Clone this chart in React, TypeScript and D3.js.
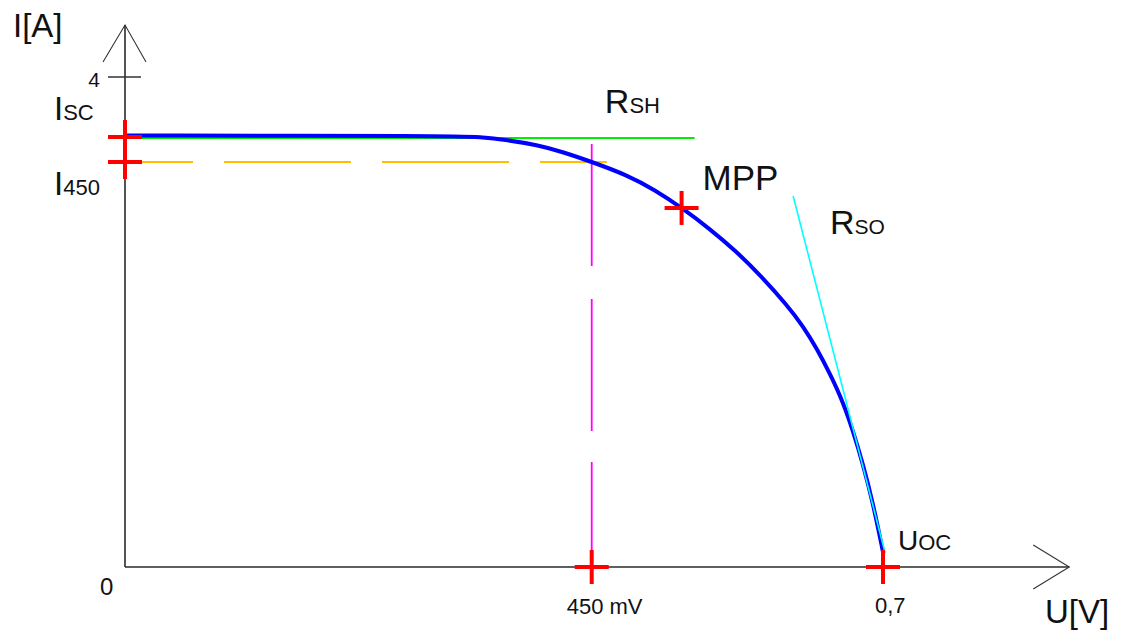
import React from "react";
import * as d3 from "d3";

// ---- data (U in volts, I in amperes) ----
const curveU = [0, 0.3029, 0.3278, 0.3528, 0.3805, 0.4045, 0.4313, 0.4636, 0.4894, 0.5144, 0.5402, 0.5652, 0.5864, 0.6113, 0.6261, 0.6391, 0.6511, 0.6631, 0.6723, 0.6815, 0.6908, 0.7];
const curveI = [3.522, 3.52, 3.51, 3.486, 3.445, 3.388, 3.306, 3.2, 3.078, 2.931, 2.759, 2.571, 2.384, 2.139, 1.967, 1.78, 1.576, 1.347, 1.11, 0.84, 0.52, 0.122];

const Isc = 3.51;
const I450 = 3.306;
const U450 = 0.431;
const Uoc = 0.7;
const mppU = 0.514;
const mppI = 2.931;

const rshLine: [number, number][] = [[0, 3.502], [0.526, 3.502]];
const rsoLine: [number, number][] = [[0.617, 3.029], [0.702, 0.114]];
const i450Line: [number, number][] = [[0, I450], [0.445, I450]];
const u450Line: [number, number][] = [[U450, 3.453], [U450, 0]];

const crossPoints: [number, number][] = [[0, Isc], [0, I450], [mppU, mppI], [U450, 0], [Uoc, 0]];

const yTicks = [4];
const yTickLabels = ["4"];
const originLabel = "0";
const xTickValues = [U450, Uoc];
const xTickLabels = ["450 mV", "0,7"];

const xDomain = [0, 0.7];
const yDomain = [0, 4];
const xAxisEnd = 0.872;
const yAxisEnd = 4.424;

const FONT = "'Liberation Sans', Arial, sans-serif";

export default function App() {
  const x = d3.scaleLinear().domain(xDomain).range([125, 883]);
  const y = d3.scaleLinear().domain(yDomain).range([567, 77]);

  const pts: [number, number][] = curveU.map((u, i) => [u, curveI[i]]);
  const line = d3
    .line<[number, number]>()
    .x((d) => x(d[0]))
    .y((d) => y(d[1]))
    .curve(d3.curveBasis);
  const straight = d3
    .line<[number, number]>()
    .x((d) => x(d[0]))
    .y((d) => y(d[1]));

  const x0 = x(0);
  const y0 = y(0);
  const xEnd = x(xAxisEnd);
  const yTop = y(yAxisEnd);
  const arm = 17;

  const Label = ({ px, py, main, sub, size, subSize }: any) => (
    <text x={px} y={py} fontFamily={FONT} fontSize={size} fill="#111">
      {main}
      {sub ? <tspan fontSize={subSize}>{sub}</tspan> : null}
    </text>
  );

  return (
    <svg
      width={1125}
      height={633}
      style={{ position: "absolute", left: 0, top: 0, background: "#fff" }}
    >
      {/* axes */}
      <line x1={x0} y1={y0} x2={x0} y2={yTop} stroke="#2a2a2a" strokeWidth={1.6} />
      <line x1={x0} y1={y0} x2={xEnd} y2={y0} stroke="#2a2a2a" strokeWidth={1.6} />
      <polyline
        points={`${x0 - 22},${yTop + 37} ${x0},${yTop} ${x0 + 21},${yTop + 37}`}
        fill="none"
        stroke="#333"
        strokeWidth={1.1}
      />
      <polyline
        points={`${xEnd - 36},${y0 - 22} ${xEnd},${y0} ${xEnd - 36},${y0 + 22}`}
        fill="none"
        stroke="#333"
        strokeWidth={1.1}
      />
      {yTicks.map((t, i) => (
        <g key={t}>
          <line x1={x0 - 17} x2={x0 + 16} y1={y(t)} y2={y(t)} stroke="#333" strokeWidth={1.5} />
          <text x={x0 - 25} y={y(t) + 10} textAnchor="end" fontFamily={FONT} fontSize={21} fill="#111">
            {yTickLabels[i]}
          </text>
        </g>
      ))}
      <text x={x0 - 25} y={y0 + 28} fontFamily={FONT} fontSize={24} fill="#111">
        {originLabel}
      </text>

      {/* helper lines */}
      <path d={straight(rshLine) || ""} stroke="#00ee00" strokeWidth={2} fill="none" />
      <path
        d={straight(i450Line) || ""}
        stroke="#ffbf00"
        strokeWidth={2}
        fill="none"
        strokeDasharray="127 31"
        strokeDashoffset={59}
      />
      <path
        d={straight(u450Line) || ""}
        stroke="#ff00ff"
        strokeWidth={1.8}
        fill="none"
        strokeDasharray="122 33 132 31 500"
      />

      {/* I-V curve */}
      <path d={line(pts) || ""} stroke="#0000ff" strokeWidth={4} fill="none" strokeLinejoin="round" />
      <path d={straight(rsoLine) || ""} stroke="#00ffff" strokeWidth={1.6} fill="none" />

      {/* crosses */}
      {crossPoints.map((p, i) => (
        <g key={i} stroke="#ff0000" strokeWidth={4}>
          <line x1={x(p[0]) - arm} x2={x(p[0]) + arm} y1={y(p[1])} y2={y(p[1])} />
          <line x1={x(p[0])} x2={x(p[0])} y1={y(p[1]) - arm} y2={y(p[1]) + arm} />
        </g>
      ))}

      {/* x tick labels */}
      {xTickValues.map((v, i) => (
        <text
          key={i}
          x={x(v) - (i === 0 ? 25 : 8)}
          y={y0 + (i === 0 ? 47 : 46)}
          fontFamily={FONT}
          fontSize={22}
          fill="#111"
        >
          {xTickLabels[i]}
        </text>
      ))}

      {/* annotations */}
      <Label px={13} py={yTop + 12} main="I[A]" size={33} />
      <Label px={x0 + 920} py={y0 + 56} main="U[V]" size={33} />
      <Label px={x0 - 71} py={y(Isc) - 17} main="I" sub="SC" size={33} subSize={22} />
      <Label px={x0 - 71} py={y(I450) + 33} main="I" sub="450" size={33} subSize={22} />
      <Label px={x(0.4431)} py={y(3.502) - 25} main="R" sub="SH" size={34} subSize={22} />
      <Label px={x(mppU) + 21} py={y(mppI) - 18} main="MPP" size={35} />
      <Label px={x(0.651)} py={y(2.722)} main="R" sub="SO" size={34} subSize={21} />
      <Label px={x(Uoc) + 15} py={y0 - 17} main="U" sub="OC" size={28} subSize={22} />
    </svg>
  );
}
